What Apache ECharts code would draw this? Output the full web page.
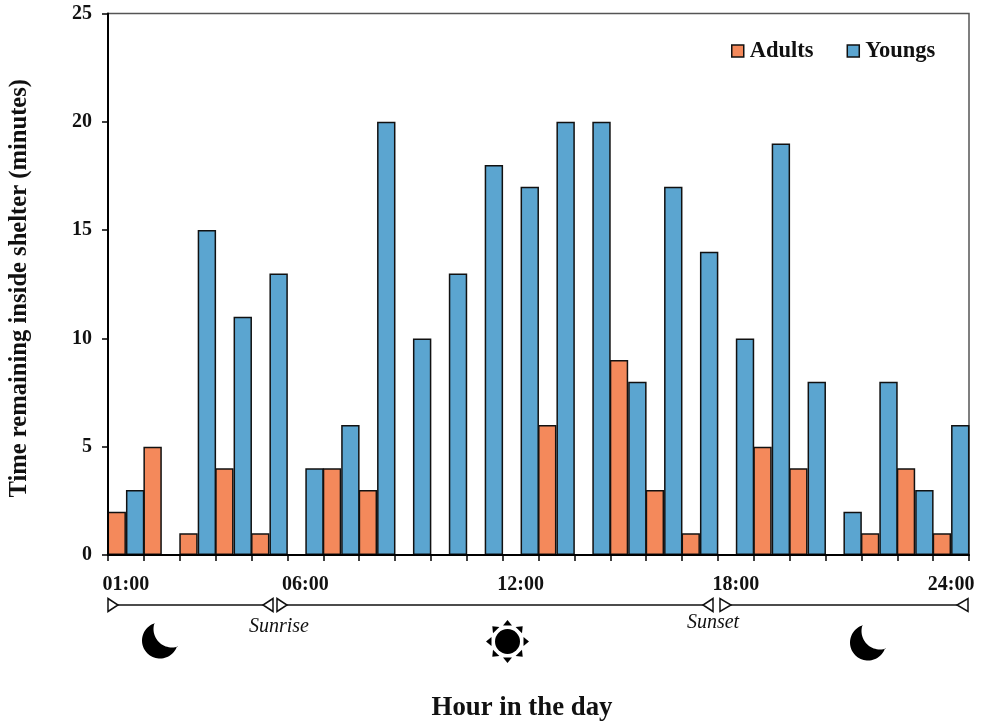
<!DOCTYPE html>
<html><head><meta charset="utf-8">
<style>html,body{margin:0;padding:0;background:#fff}#c{width:985px;height:721px}</style>
<script src="https://cdn.jsdelivr.net/npm/echarts@6/dist/echarts.min.js"></script>
</head><body><div id="c"></div>
<script>
const hours = ['01:00','02:00','03:00','04:00','05:00','06:00','07:00','08:00','09:00','10:00','11:00','12:00','13:00','14:00','15:00','16:00','17:00','18:00','19:00','20:00','21:00','22:00','23:00','24:00'];
const shownHours = ['01:00','06:00','12:00','18:00','24:00'];
const adults = [2,5,1,4,1,0,4,3,0,0,0,0,6,0,9,3,1,0,5,4,0,1,4,1];
const youngs = [3,0,15,11,13,4,6,20,10,13,18,17,20,20,8,17,14,10,19,8,2,8,3,6];
const FONT = '"Liberation Serif","Times New Roman",serif';
const INK = '#111';

const chart = echarts.init(document.getElementById('c'), null, {renderer:'canvas'});
const g = [];
function tri(tipX, baseX){
  g.push({type:'polygon', shape:{points:[[baseX,598.5],[baseX,611.5],[tipX,605]]}, style:{fill:'#fff',stroke:INK,lineWidth:1.5}, z:10});
}
function seg(a,b){ g.push({type:'line', shape:{x1:a,y1:605,x2:b,y2:605}, style:{stroke:INK,lineWidth:1.5}, z:9}); }
seg(118,263); seg(287,703); seg(731,957);
tri(118,108); tri(263,273); tri(287,277); tri(703,713); tri(731,720); tri(957,968);
function moon(x,y){
  const pts=[], R=18, r=18.5;
  const ox=x+18, oy=y+18, ix=x+30, iy=y+6.5;
  for(let d=-106; d>=-343; d-=5){ const a=d*Math.PI/180; pts.push([ox+R*Math.cos(a),oy+R*Math.sin(a)]); }
  for(let d=70; d<=199; d+=5){ const a=d*Math.PI/180; pts.push([ix+r*Math.cos(a),iy+r*Math.sin(a)]); }
  g.push({type:'polygon', shape:{points:pts}, style:{fill:'#000'}, z:10});
}
moon(142,622.5); moon(850,624.5);
const sx=507.5, sy=641.5;
g.push({type:'circle', shape:{cx:sx,cy:sy,r:12.5}, style:{fill:'#000'}, z:10});
for(let i=0;i<8;i++){
  const a=i*Math.PI/4, c=Math.cos(a), s=Math.sin(a), r0=16, r1=21.5, h=4.5;
  g.push({type:'polygon', shape:{points:[[sx+r1*c,sy+r1*s],[sx+r0*c-h*s,sy+r0*s+h*c],[sx+r0*c+h*s,sy+r0*s-h*c]]}, style:{fill:'#000'}, z:10});
}
function note(t,x,y){ g.push({type:'text', style:{text:t,x:x,y:y,align:'center',verticalAlign:'middle',font:'italic 20px '+FONT,fill:INK}, z:10}); }
note('Sunrise',279,627); note('Sunset',713,623);

chart.setOption({
  animation:false,
  backgroundColor:'#fff',
  grid:{left:108,right:16,top:13.5,bottom:166,outerBoundsMode:'none',show:true,borderColor:'#555',borderWidth:1.5,backgroundColor:'transparent'},
  legend:{left:731,top:39.5,padding:0,itemWidth:12,itemHeight:12,itemGap:33,icon:'rect',data:['Adults','Youngs'],
    textStyle:{fontFamily:FONT,fontWeight:'bold',fontSize:22.5,color:INK,padding:[0,0,0,1]},
    itemStyle:{borderColor:'#111',borderWidth:1.5}},
  xAxis:{type:'category',data:hours,z:5,
    name:'Hour in the day',nameLocation:'middle',nameGap:140,
    nameTextStyle:{fontFamily:FONT,fontWeight:'bold',fontSize:26.8,color:INK,padding:[0,33,0,0]},
    axisLine:{lineStyle:{color:'#000',width:2}},
    axisTick:{show:true,interval:0,length:6,alignWithLabel:false,lineStyle:{color:'#000',width:1.5}},
    splitLine:{show:false},
    axisLabel:{interval:(i,v)=>shownHours.includes(v),margin:20,hideOverlap:false,fontFamily:FONT,fontWeight:'bold',fontSize:20,color:INK}},
  yAxis:{type:'value',min:0,max:25,interval:5,z:5,
    name:'Time remaining inside shelter (minutes)',nameLocation:'middle',nameGap:76,
    nameTextStyle:{fontFamily:FONT,fontWeight:'bold',fontSize:24.6,color:INK,padding:[0,8,0,0]},
    axisLine:{show:true,lineStyle:{color:'#000',width:2}},
    axisTick:{show:true,length:6,lineStyle:{color:'#000',width:1.5}},
    splitLine:{show:false},
    axisLabel:{margin:16,padding:[5,0,0,0],fontFamily:FONT,fontWeight:'bold',fontSize:20,color:INK}},
  series:[
    {name:'Adults',type:'bar',data:adults,barGap:0,barWidth:18.4,itemStyle:{color:'#F4895B',borderColor:'#111',borderWidth:1.5}},
    {name:'Youngs',type:'bar',data:youngs,barGap:0,barWidth:18.4,itemStyle:{color:'#5BA5D0',borderColor:'#111',borderWidth:1.5}}
  ],
  graphic:g
});
</script></body></html>
